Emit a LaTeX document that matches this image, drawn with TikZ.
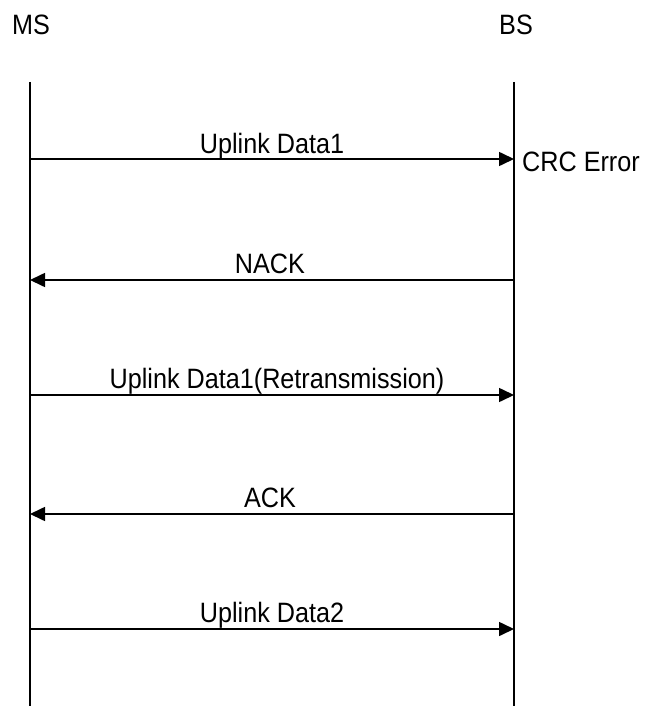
\documentclass[tikz,border=0pt]{standalone}
\usepackage{fontspec}
\setmainfont{Liberation Sans}[FakeStretch=0.9]
\usetikzlibrary{arrows.meta}
\tikzset{
  lifeline/.style={line width=1.6pt},
  msg/.style={line width=1.6pt,-{Triangle[length=15pt,width=14pt]}},
  lbl/.style={font=\fontsize{28}{32}\selectfont,inner sep=0pt,anchor=base},
  ent/.style={font=\fontsize{28}{32}\selectfont,inner sep=0pt,anchor=base}
}
\begin{document}
\begin{tikzpicture}[x=1pt,y=-1pt]
\useasboundingbox (0,0) rectangle (647,706);
\node[ent] (ms) at (31,35) {MS};
\node[ent] (bs) at (516,35) {BS};
\coordinate (mstop) at (30,82);
\coordinate (msbot) at (30,706);
\coordinate (bstop) at (514,82);
\coordinate (bsbot) at (514,706);
\draw[lifeline] (mstop) -- (msbot);
\draw[lifeline] (bstop) -- (bsbot);
\foreach \n/\y in {1/159,2/280,3/395,4/514,5/629}{
  \coordinate (m\n) at (30,\y);
  \coordinate (b\n) at (514,\y);
}
\draw[msg] (m1) -- (b1);
\draw[msg] (b2) -- (m2);
\draw[msg] (m3) -- (b3);
\draw[msg] (b4) -- (m4);
\draw[msg] (m5) -- (b5);
\node[lbl] (l1) at (272,153) {Uplink Data1};
\node[lbl] (l2) at (270,273) {NACK};
\node[lbl] (l3) at (277,388) {Uplink Data1(Retransmission)};
\node[lbl] (l4) at (270,507) {ACK};
\node[lbl] (l5) at (272,622) {Uplink Data2};
\node[font=\fontsize{28}{32}\selectfont,inner sep=0pt,anchor=base west] (crc) at (522,171) {CRC Error};
\end{tikzpicture}
\end{document}
